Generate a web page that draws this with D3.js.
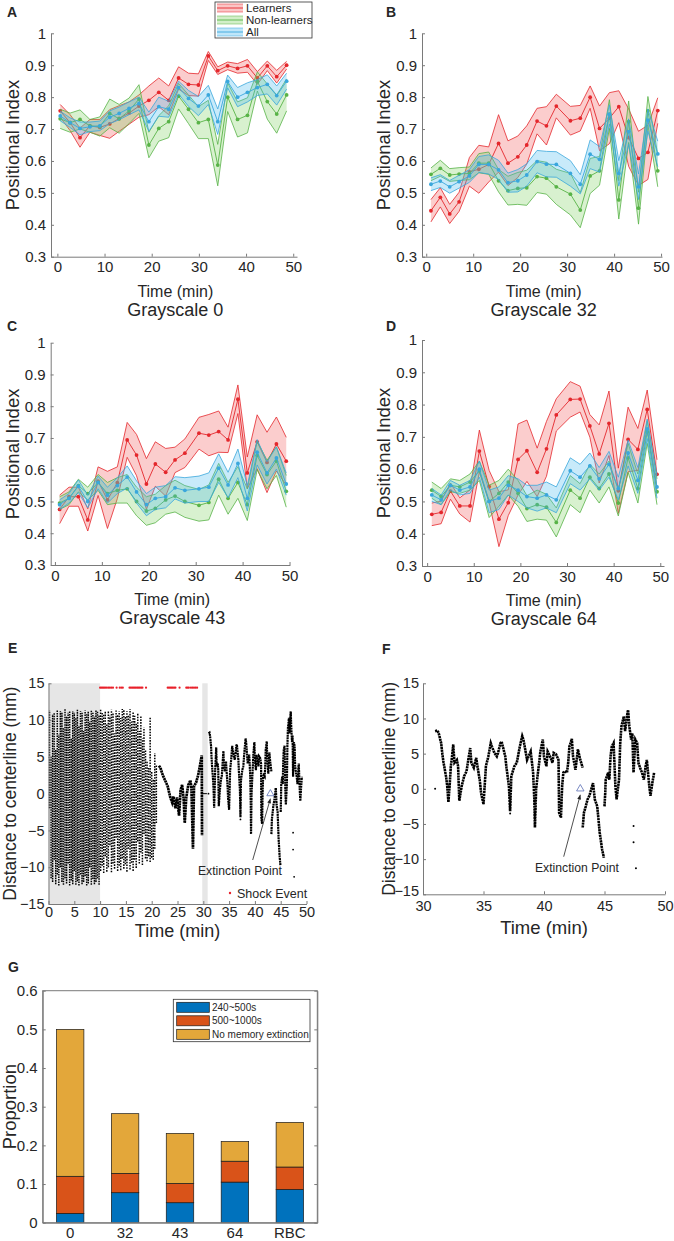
<!DOCTYPE html>
<html><head><meta charset="utf-8">
<script src="https://cdn.jsdelivr.net/npm/d3@7"></script>
<style>
body{margin:0;background:#fff}
svg{display:block}
text{font-family:"Liberation Sans",Arial,Helvetica,sans-serif;fill:#262626}
</style>
</head><body>
<svg id="fig" width="674" height="1241"></svg>
<script>
// ---------------- DATA ----------------
const timesA = [0.6,2.7,4.8,6.9,9.0,11.1,13.1,15.2,17.3,19.4,21.5,23.6,25.7,27.8,29.9,32.0,34.0,36.1,38.2,40.3,42.4,44.5,46.5,48.6];
const timesBCD = [1.0,3.0,5.0,7.0,9.2,11.2,13.3,15.4,17.4,19.5,21.4,23.6,25.6,27.7,30.7,32.8,34.9,36.9,39.0,41.0,43.1,45.2,47.2,49.3];

const seriesNames = ["Learners","Non-learners","All"];
const posTicks = [0.3,0.4,0.5,0.6,0.7,0.8,0.9,1];
const timeTicks = [0,10,20,30,40,50];

// Panel A (Grayscale 0)
const aLearnMean = [0.757,0.72,0.673,0.71,0.705,0.716,0.733,0.75,0.772,0.79,0.815,0.79,0.86,0.84,0.838,0.929,0.883,0.898,0.89,0.898,0.86,0.898,0.864,0.9];
const aLearnSem  = [0.02,0.025,0.03,0.02,0.025,0.045,0.04,0.035,0.035,0.045,0.045,0.045,0.035,0.035,0.035,0.014,0.012,0.012,0.015,0.02,0.02,0.015,0.02,0.012];
const aNonMean   = [0.732,0.72,0.73,0.71,0.708,0.749,0.732,0.757,0.794,0.65,0.702,0.723,0.803,0.762,0.72,0.73,0.587,0.80,0.73,0.743,0.849,0.786,0.747,0.807];
const aNonSem    = [0.03,0.03,0.03,0.02,0.03,0.045,0.045,0.04,0.045,0.04,0.04,0.05,0.04,0.045,0.05,0.06,0.065,0.045,0.055,0.055,0.03,0.055,0.06,0.05];
const aAllMean   = [0.741,0.72,0.702,0.707,0.71,0.737,0.749,0.765,0.78,0.723,0.77,0.762,0.83,0.796,0.772,0.807,0.723,0.849,0.80,0.815,0.83,0.84,0.805,0.85];
const aAllSem    = [0.015,0.015,0.02,0.015,0.015,0.02,0.02,0.02,0.02,0.03,0.03,0.025,0.02,0.025,0.03,0.03,0.04,0.02,0.03,0.03,0.025,0.03,0.03,0.025];

// Panel B (Grayscale 32)
const bLearnMean = [0.444,0.486,0.434,0.472,0.566,0.574,0.589,0.655,0.593,0.613,0.65,0.725,0.71,0.772,0.726,0.734,0.80,0.702,0.734,0.77,0.673,0.608,0.627,0.758];
const bLearnSem  = [0.035,0.03,0.03,0.03,0.045,0.075,0.055,0.09,0.07,0.065,0.06,0.04,0.06,0.037,0.045,0.04,0.035,0.07,0.08,0.05,0.09,0.085,0.085,0.04];
const bNonMean   = [0.558,0.577,0.556,0.559,0.561,0.593,0.593,0.538,0.507,0.514,0.516,0.551,0.546,0.519,0.496,0.446,0.553,0.569,0.747,0.478,0.723,0.452,0.757,0.569];
const bNonSem    = [0.02,0.025,0.02,0.02,0.02,0.03,0.035,0.035,0.045,0.05,0.055,0.05,0.05,0.055,0.065,0.055,0.055,0.045,0.045,0.06,0.065,0.05,0.045,0.05];
const bAllMean   = [0.527,0.537,0.519,0.535,0.553,0.589,0.589,0.572,0.532,0.538,0.556,0.598,0.59,0.589,0.561,0.527,0.621,0.605,0.746,0.561,0.692,0.519,0.728,0.622];
const bAllSem    = [0.02,0.02,0.02,0.02,0.02,0.025,0.03,0.03,0.03,0.035,0.035,0.035,0.04,0.04,0.04,0.03,0.045,0.04,0.03,0.04,0.04,0.04,0.035,0.04];

// Panel C (Grayscale 43)
const cLearnMean = [0.475,0.515,0.515,0.442,0.564,0.505,0.559,0.694,0.646,0.555,0.618,0.592,0.631,0.652,0.715,0.709,0.72,0.694,0.822,0.59,0.688,0.623,0.681,0.627];
const cLearnSem  = [0.045,0.03,0.03,0.035,0.045,0.09,0.05,0.055,0.065,0.08,0.07,0.075,0.04,0.045,0.05,0.065,0.065,0.04,0.045,0.05,0.085,0.095,0.085,0.075];
const cNonMean   = [0.495,0.51,0.55,0.525,0.56,0.525,0.535,0.54,0.50,0.47,0.478,0.505,0.517,0.50,0.488,0.497,0.57,0.51,0.56,0.49,0.645,0.585,0.627,0.532];
const cNonSem    = [0.02,0.02,0.02,0.02,0.025,0.035,0.04,0.045,0.045,0.045,0.045,0.045,0.05,0.05,0.05,0.055,0.05,0.05,0.05,0.05,0.045,0.045,0.045,0.05];
const cAllMean   = [0.49,0.51,0.548,0.50,0.56,0.52,0.55,0.577,0.53,0.49,0.51,0.515,0.543,0.535,0.54,0.545,0.605,0.552,0.62,0.51,0.655,0.59,0.637,0.555];
const cAllSem    = [0.015,0.015,0.02,0.02,0.02,0.025,0.025,0.035,0.035,0.035,0.035,0.035,0.035,0.04,0.04,0.045,0.045,0.04,0.045,0.04,0.04,0.035,0.035,0.035];

// Panel D (Grayscale 64)
const dLearnMean = [0.46,0.466,0.532,0.486,0.486,0.656,0.546,0.445,0.496,0.63,0.657,0.59,0.663,0.768,0.816,0.817,0.734,0.647,0.742,0.533,0.692,0.661,0.785,0.584];
const dLearnSem  = [0.035,0.035,0.025,0.025,0.05,0.065,0.05,0.085,0.04,0.11,0.095,0.075,0.085,0.05,0.055,0.04,0.035,0.09,0.1,0.07,0.1,0.065,0.06,0.045];
const dNonMean   = [0.535,0.515,0.55,0.545,0.56,0.595,0.50,0.525,0.56,0.525,0.478,0.49,0.482,0.435,0.535,0.51,0.575,0.54,0.585,0.495,0.635,0.54,0.715,0.53];
const dNonSem    = [0.025,0.025,0.02,0.02,0.025,0.03,0.05,0.04,0.04,0.04,0.04,0.045,0.04,0.045,0.045,0.045,0.04,0.045,0.04,0.04,0.045,0.045,0.035,0.04];
const dAllMean   = [0.52,0.505,0.55,0.535,0.545,0.60,0.50,0.51,0.55,0.535,0.515,0.51,0.52,0.505,0.595,0.575,0.61,0.57,0.615,0.54,0.65,0.565,0.725,0.545];
const dAllSem    = [0.02,0.015,0.015,0.015,0.02,0.025,0.035,0.035,0.03,0.035,0.035,0.04,0.04,0.04,0.04,0.04,0.04,0.035,0.04,0.035,0.04,0.04,0.03,0.035];

// Panel E: dense early tracking, drawn as vertical [time, low, high] excursions
const eStrokes = [
 [0.2,-2,11.3],[0.5,-11.5,5],[0.8,-12,10.8],[1.1,-9,11],[1.4,-12.3,6],[1.7,-11,11.4],[2.0,-12.5,8],[2.3,-10,11.2],
 [2.6,-12,11],[2.9,-12.4,9],[3.2,-11.5,11.5],[3.5,-12.2,10.5],[3.8,-9.5,11],[4.1,-12.5,11.3],[4.4,-11.8,7.5],[4.7,-12.3,11.2],
 [5.0,-10.5,11],[5.3,-12.4,10.4],[5.6,-11.9,11.4],[5.9,-12.5,9.2],[6.2,-11,11.2],[6.5,-12.3,11],[6.8,-12,8.5],[7.1,-11.2,11.3],
 [7.4,-12.5,10.8],[7.7,-12.2,11.2],[8.0,-10,9.8],[8.3,-12.4,11.4],[8.6,-11.6,11],[8.9,-12.3,10.5],[9.2,-12,11.3],[9.5,-11.5,11.2],[9.8,-12.4,10.7],
 [10.1,-10.5,11.4],[10.4,-9.8,11],[10.7,-10.8,10.8],[11.0,-8.5,11.3],[11.3,-10.6,9.5],[11.6,-10,11.2],[11.9,-7,10.6],[12.2,-10.7,11.4],
 [12.5,-9.5,11],[12.8,-10.2,8.2],[13.1,-6,11.3],[13.4,-10.5,10.8],[13.7,-9.8,11.2],[14.0,-10.4,10.3],[14.3,-8.8,11.5],[14.6,-10.2,11.4],
 [14.9,-9.6,10.5],[15.2,-10.6,11.2],[15.5,-7.5,10.7],[15.8,-10.3,11.5],[16.1,-9.4,9.8],[16.4,-10.5,11.1],[16.7,-9.0,10.6],[17.0,-10.1,9.5],
 [17.3,-6.5,11],[17.6,-9.5,8.5],[17.9,-8.0,10.5],[18.2,-9.7,7.5],[18.5,-5.5,9.0],[18.8,-8.8,6.0],[19.1,-9.2,4.5],[19.4,-8.5,3.5],
 [19.7,-9.3,10.5],[20.0,-8.7,3.0],[20.3,-9.0,2.0],[20.6,-7.5,5.5],[20.9,-4.0,4.0]
];
const eMidTrace = [
 [21.4,3.8],[21.7,3.5],[22.15,2.5],[22.6,1.8],[23.1,1.0],[23.6,-0.5],[23.96,-1.2],[24.2,-0.4],[24.6,-2.0],[24.9,-0.5],
 [25.3,-3.0],[25.6,0.5],[25.9,1.2],[26.2,-0.8],[26.4,-4.0],[26.7,-0.5],[27.1,1.2],[27.5,1.8],[27.7,0.8],[28.0,-7.5],
 [28.2,1.0],[28.6,1.5],[29.0,2.5],[29.4,4.0],[29.7,5.2],[29.75,-5.7]
];
const eNoTrack = [[29.6,0],[30.7,0]];
const shockTimes = [10.0,10.25,10.5,10.75,11.0,11.3,11.6,11.9,12.2,12.5,13.2,13.8,14.1,14.4,15.7,15.95,16.2,16.45,16.7,16.95,17.2,17.45,17.7,17.95,18.2,18.9,23.1,23.35,23.6,23.85,24.1,24.35,24.6,25.4,26.7,26.95,27.2,27.6,27.9,28.2,28.5,28.8];
const trainWindows = [[0,10],[29.8,30.85]];

// 30-50 min tracking (panel F, also end of panel E), as continuous segments
const lateSegments = [
 [[31.0,8.2],[31.2,8.3],[31.3,7.9],[31.5,6.5],[31.6,4.9],[31.7,3.7],[31.9,1.8],[32.0,0.4],[32.1,-1.9],[32.2,0.4],[32.3,3.2],[32.4,4.6],
  [32.5,6.3],[32.6,3.7],[32.8,4.1],[32.9,3.2],[33.0,-1.7],[33.2,0.4],[33.4,1.8],[33.6,2.5],[33.75,4.2],[33.9,5.8],[34.0,3.7],[34.2,3.0],
  [34.4,4.4],[34.5,3.2],[34.7,1.1],[34.8,-0.6],[35.0,-2.2],[35.2,3.2],[35.4,4.6],[35.6,6.5],[35.7,6.0],[35.9,5.1],[36.1,4.6],[36.2,5.1],
  [36.4,6.5],[36.5,6.7],[36.6,6.0],[36.8,4.6],[36.9,3.0],[37.1,0.4],[37.2,-3.2],[37.3,1.8],[37.55,3.2],[37.75,3.7],[38.0,6.0],[38.2,7.5],
  [38.3,7.0],[38.5,5.1],[38.6,4.1],[38.8,4.9],[38.9,5.3],[39.1,2.3],[39.2,-1.5],[39.25,-5.5],[39.35,0],[39.5,2.3],[39.6,3.7],[39.7,5.3],
  [39.9,7.0],[40.0,4.6],[40.2,3.2],[40.3,5.3],[40.5,4.6],[40.7,3.7],[40.8,5.1],[41.0,4.9],[41.2,4.1],[41.25,-3.4],[41.4,-4.1],[41.5,0.4],
  [41.6,2.3],[41.7,2.5],[41.9,2.3],[42.0,3.7],[42.1,6.0],[42.3,7.1],[42.4,4.6],[42.6,2.7],[42.7,4.1],[42.8,5.6],[43.0,4.1],[43.2,3.0]],
 [[43.2,-5.5],[43.3,-3.4],[43.45,-2.5],[43.6,-1.5],[43.75,-1.0],[43.9,-0.1],[44.05,0.8],[44.2,-1.5],[44.4,-2.5],[44.5,-4.3],[44.6,-6.2],
  [44.8,-8.6],[44.95,-9.8]],
 [[45.0,-2.5],[45.06,-0.6],[45.1,1.3],[45.3,2.3],[45.4,1.3],[45.5,4.6],[45.6,6.0],[45.75,6.5],[45.9,0.4],[46.0,-1.5],[46.2,1.3],[46.3,6.5],
  [46.4,8.9],[46.6,10.3],[46.7,8.2],[46.9,10.8],[46.95,11.2],[47.05,8.9],[47.2,7.0],[47.3,7.9],[47.4,2.3],[47.55,7.0],[47.7,6.5],[47.8,3.7],
  [48.0,2.7],[48.1,2.3],[48.25,1.3],[48.4,3.2],[48.5,4.1],[48.7,0.4],[48.8,-1.0],[48.95,0.8],[49.1,2.3]]
];
const lateDots = [[31.0,0],[37.2,-3.5],[47.4,-5.3],[47.4,-7.6],[47.6,-11.3]];
const extinctionPoint = [43.0,0];
const distTicks = [-15,-10,-5,0,5,10,15];
const eTimeTicks = [0,5,10,15,20,25,30,35,40,45,50];
const fTimeTicks = [30,35,40,45,50];

// Panel G
const gCategories = ["0","32","43","64","RBC"];
const gShort = [0.024,0.0776,0.0517,0.105,0.086];     // 240~500s
const gMid = [0.096,0.05,0.05,0.054,0.058];           // 500~1000s
const gNone = [0.38,0.1544,0.1293,0.051,0.1155];      // No memory extinction
const gKeys = ["240~500s","500~1000s","No memory extinction"];
const propTicks = [0,0.1,0.2,0.3,0.4,0.5,0.6];

// ---------------- DRAWING ----------------
const svg = d3.select("#fig");
const AX = "#7a7a7a";
const COLORS = {
  red:{line:"#e4272c", fill:"#f25a5a"},
  green:{line:"#58b347", fill:"#7fd160"},
  blue:{line:"#3aa7dc", fill:"#49b8ee"}
};

function styleAxis(g, fs){
  g.select(".domain").attr("stroke", AX).attr("stroke-width",1);
  g.selectAll(".tick line").attr("stroke", AX).attr("stroke-width",1);
  g.selectAll(".tick text").attr("fill","#262626").attr("font-size",fs)
   .attr("font-family",'"Liberation Sans",Arial,sans-serif');
}

function letter(txt,x,y){
  svg.append("text").attr("x",x).attr("y",y).attr("font-size",14).attr("font-weight","bold").attr("fill","#111").text(txt);
}

function drawArrow(g,x1,y1,x2,y2){
  g.append("line").attr("x1",x1).attr("y1",y1).attr("x2",x2).attr("y2",y2).attr("stroke","#222").attr("stroke-width",0.8);
  const a = Math.atan2(y2-y1,x2-x1), L=5, w=0.4;
  const p = [[x2,y2],[x2-L*Math.cos(a-w),y2-L*Math.sin(a-w)],[x2-L*Math.cos(a+w),y2-L*Math.sin(a+w)]];
  g.append("path").attr("d","M"+p.map(q=>q.join(",")).join("L")+"Z").attr("fill","#222");
}

function linePanel(cfg){
  const g = svg.append("g");
  const x = d3.scaleLinear().domain(cfg.xd).range(cfg.xr);
  const y = d3.scaleLinear().domain([0.3,1]).range(cfg.yr);
  const sets = [
    {m:cfg.learn, e:cfg.learnSem, c:COLORS.red},
    {m:cfg.non, e:cfg.nonSem, c:COLORS.green},
    {m:cfg.all, e:cfg.allSem, c:COLORS.blue}
  ];
  sets.forEach(s=>{
    const pts = cfg.t.map((t,i)=>({t, m:s.m[i], e:s.e[i]}));
    g.append("path").datum(pts)
      .attr("d", d3.area().x(d=>x(d.t)).y0(d=>y(d.m-d.e)).y1(d=>y(d.m+d.e)))
      .attr("fill", s.c.fill).attr("fill-opacity",0.3).attr("stroke","none");
    [-1,1].forEach(k=>{
      g.append("path").datum(pts)
        .attr("d", d3.line().x(d=>x(d.t)).y(d=>y(d.m+k*d.e)))
        .attr("fill","none").attr("stroke", s.c.line).attr("stroke-width",0.8);
    });
    g.append("path").datum(pts)
      .attr("d", d3.line().x(d=>x(d.t)).y(d=>y(d.m)))
      .attr("fill","none").attr("stroke", s.c.line).attr("stroke-width",0.9);
    g.selectAll(null).data(pts).enter().append("circle")
      .attr("cx",d=>x(d.t)).attr("cy",d=>y(d.m)).attr("r",1.9).attr("fill",s.c.line);
  });
  const ya = g.append("g").attr("transform",`translate(${cfg.xr[0]},0)`)
    .call(d3.axisLeft(y).tickValues(posTicks).tickFormat(d3.format("~g")).tickSizeInner(-3).tickSizeOuter(0).tickPadding(5));
  styleAxis(ya,15);
  const xa = g.append("g").attr("transform",`translate(0,${cfg.yr[0]})`)
    .call(d3.axisBottom(x).tickValues(timeTicks).tickSizeInner(-3).tickSizeOuter(0).tickPadding(5));
  styleAxis(xa,15);
  g.append("text").attr("transform",`translate(${cfg.xr[0]-32},${(cfg.yr[0]+cfg.yr[1])/2}) rotate(-90)`)
    .attr("text-anchor","middle").attr("font-size",18.5).text("Positional Index");
  g.append("text").attr("x",(x(0)+x(50))/2).attr("y",cfg.yr[0]+40)
    .attr("text-anchor","middle").attr("font-size",16).text("Time (min)");
  g.append("text").attr("x",(x(0)+x(50))/2).attr("y",cfg.yr[0]+59)
    .attr("text-anchor","middle").attr("font-size",18).text(cfg.title);
  return {g,x,y};
}

linePanel({xd:[-1.35,50.8], xr:[51,297], yr:[256.7,33.3], t:timesA,
  learn:aLearnMean, learnSem:aLearnSem, non:aNonMean, nonSem:aNonSem, all:aAllMean, allSem:aAllSem, title:"Grayscale 0"});
linePanel({xd:[-0.9,50.2], xr:[422,662], yr:[256.7,33.3], t:timesBCD,
  learn:bLearnMean, learnSem:bLearnSem, non:bNonMean, nonSem:bNonSem, all:bAllMean, allSem:bAllSem, title:"Grayscale 32"});
linePanel({xd:[-0.9,50.1], xr:[50.7,290], yr:[565,342.7], t:timesBCD,
  learn:cLearnMean, learnSem:cLearnSem, non:cNonMean, nonSem:cNonSem, all:cAllMean, allSem:cAllSem, title:"Grayscale 43"});
linePanel({xd:[-1.1,50.8], xr:[422,664], yr:[566,340], t:timesBCD,
  learn:dLearnMean, learnSem:dLearnSem, non:dNonMean, nonSem:dNonSem, all:dAllMean, allSem:dAllSem, title:"Grayscale 64"});

letter("A",7,17); letter("B",386,17); letter("C",7,331); letter("D",386,331);

// Legend for A
(function(){
  const lg = svg.append("g");
  lg.append("rect").attr("x",215).attr("y",2).attr("width",97).attr("height",36).attr("fill","#fff").attr("stroke","#333").attr("stroke-width",0.8);
  const cols=[COLORS.red,COLORS.green,COLORS.blue];
  seriesNames.forEach((n,i)=>{
    const cy = 8+i*12;
    lg.append("rect").attr("x",217).attr("y",cy-4).attr("width",26).attr("height",8).attr("fill",cols[i].fill).attr("fill-opacity",0.35);
    lg.append("line").attr("x1",217).attr("x2",243).attr("y1",cy).attr("y2",cy).attr("stroke",cols[i].line).attr("stroke-width",0.9);
    lg.append("line").attr("x1",217).attr("x2",243).attr("y1",cy-4).attr("y2",cy-4).attr("stroke",cols[i].line).attr("stroke-width",0.5);
    lg.append("line").attr("x1",217).attr("x2",243).attr("y1",cy+4).attr("y2",cy+4).attr("stroke",cols[i].line).attr("stroke-width",0.5);
    lg.append("text").attr("x",246).attr("y",cy+4).attr("font-size",11.5).text(n);
  });
})();

// ---------------- Panel E ----------------
(function(){
  const g = svg.append("g");
  const x = d3.scaleLinear().domain([0,50]).range([48.5,306.5]);
  const y = d3.scaleLinear().domain([-15,15]).range([904,683.3]);
  trainWindows.forEach(w=>{
    g.append("rect").attr("x",x(w[0])).attr("y",y(15)).attr("width",x(w[1])-x(w[0])).attr("height",y(-15)-y(15)).attr("fill","#e6e6e6");
  });
  g.selectAll(null).data(eStrokes).enter().append("line")
    .attr("x1",d=>x(d[0])).attr("x2",d=>x(d[0])).attr("y1",d=>y(d[1])).attr("y2",d=>y(d[2]))
    .attr("stroke","#000").attr("stroke-width",1.5).attr("stroke-dasharray",d=>d[0]<10?"1.6,0.9":"1.6,1.2");
  const ln = d3.line().x(d=>x(d[0])).y(d=>y(d[1]));
  g.append("path").datum(eMidTrace).attr("d",ln).attr("fill","none").attr("stroke","#000").attr("stroke-width",2.7).attr("stroke-dasharray","2.2,0.5");
  g.append("path").datum(eNoTrack).attr("d",ln).attr("fill","none").attr("stroke","#000").attr("stroke-width",1);
  lateSegments.forEach(s=>{
    g.append("path").datum(s).attr("d",ln).attr("fill","none").attr("stroke","#000").attr("stroke-width",2.2).attr("stroke-dasharray","2,0.6");
  });
  g.selectAll(null).data(lateDots).enter().append("circle").attr("cx",d=>x(d[0])).attr("cy",d=>y(d[1])).attr("r",0.9).attr("fill","#000");
  g.selectAll(null).data(shockTimes).enter().append("circle").attr("cx",d=>x(d)).attr("cy",y(14.4)).attr("r",1.1).attr("fill","#e8202a");
  const ex = x(extinctionPoint[0]), ey = y(extinctionPoint[1]);
  g.append("path").attr("d",d3.symbol(d3.symbolTriangle,22)()).attr("transform",`translate(${ex},${ey})`).attr("fill","none").attr("stroke","#5a6fb5").attr("stroke-width",0.8);
  drawArrow(g, 252.7, 860, ex, ey+5);
  g.append("text").attr("x",240).attr("y",875).attr("text-anchor","middle").attr("font-size",12.2).text("Extinction Point");
  g.append("circle").attr("cx",230).attr("cy",893).attr("r",1.2).attr("fill","#e8202a");
  g.append("text").attr("x",237).attr("y",897.5).attr("font-size",12.5).text("Shock Event");
  const ya = g.append("g").attr("transform",`translate(${x(0)},0)`)
    .call(d3.axisLeft(y).tickValues(distTicks).tickSizeInner(-3).tickSizeOuter(0).tickPadding(4));
  styleAxis(ya,14.5);
  const xa = g.append("g").attr("transform",`translate(0,${y(-15)})`)
    .call(d3.axisBottom(x).tickValues(eTimeTicks).tickSizeInner(-3).tickSizeOuter(0).tickPadding(3));
  styleAxis(xa,14.5);
  g.append("text").attr("transform",`translate(16,${(y(-15)+y(15))/2}) rotate(-90)`).attr("text-anchor","middle").attr("font-size",17.5).text("Distance to centerline (mm)");
  g.append("text").attr("x",(x(0)+x(50))/2).attr("y",937).attr("text-anchor","middle").attr("font-size",18).text("Time (min)");
})();
letter("E",8,653);

// ---------------- Panel F ----------------
(function(){
  const g = svg.append("g");
  const x = d3.scaleLinear().domain([30,50]).range([423,665]);
  const y = d3.scaleLinear().domain([-15,15]).range([894.3,683.3]);
  const ln = d3.line().x(d=>x(d[0])).y(d=>y(d[1]));
  lateSegments.forEach(s=>{
    g.append("path").datum(s).attr("d",ln).attr("fill","none").attr("stroke","#000").attr("stroke-width",2.6).attr("stroke-dasharray","2.2,0.6");
  });
  g.selectAll(null).data(lateDots).enter().append("circle").attr("cx",d=>x(d[0])).attr("cy",d=>y(d[1])).attr("r",1).attr("fill","#000");
  const ex = x(extinctionPoint[0]), ey = y(extinctionPoint[1]);
  g.append("path").attr("d",d3.symbol(d3.symbolTriangle,24)()).attr("transform",`translate(${ex},${ey})`).attr("fill","none").attr("stroke","#5a6fb5").attr("stroke-width",0.8);
  drawArrow(g, 563.7, 856.7, ex, ey+6);
  g.append("text").attr("x",577).attr("y",871.5).attr("text-anchor","middle").attr("font-size",12.2).text("Extinction Point");
  const ya = g.append("g").attr("transform",`translate(${x(30)},0)`)
    .call(d3.axisLeft(y).tickValues(distTicks).tickSizeInner(-3).tickSizeOuter(0).tickPadding(4));
  styleAxis(ya,14.5);
  // lift the bottom "-15" label slightly so it clears the "30" time label
  ya.selectAll(".tick text").filter(d=>d===-15).attr("dy","0.1em");
  const xa = g.append("g").attr("transform",`translate(0,${y(-15)})`)
    .call(d3.axisBottom(x).tickValues(fTimeTicks).tickSizeInner(-3).tickSizeOuter(0).tickPadding(6));
  styleAxis(xa,14.5);
  g.append("text").attr("transform",`translate(395,${(y(-15)+y(15))/2}) rotate(-90)`).attr("text-anchor","middle").attr("font-size",17.5).text("Distance to centerline (mm)");
  g.append("text").attr("x",(x(30)+x(50))/2).attr("y",934).attr("text-anchor","middle").attr("font-size",18.5).text("Time (min)");
})();
letter("F",382,654);

// ---------------- Panel G ----------------
(function(){
  const g = svg.append("g");
  const x = d3.scaleBand().domain(gCategories).range([42.7,317.3]).paddingInner(0.5).paddingOuter(0.25);
  const y = d3.scaleLinear().domain([0,0.6]).range([1222.7,990.7]);
  const table = gCategories.map((c,i)=>({cat:c, [gKeys[0]]:gShort[i], [gKeys[1]]:gMid[i], [gKeys[2]]:gNone[i]}));
  const stack = d3.stack().keys(gKeys)(table);
  const fills = ["#0072bd","#d95319","#e3a73a"];
  stack.forEach((layer,k)=>{
    g.selectAll(null).data(layer).enter().append("rect")
      .attr("x",d=>x(d.data.cat)).attr("width",x.bandwidth())
      .attr("y",d=>y(d[1])).attr("height",d=>y(d[0])-y(d[1]))
      .attr("fill",fills[k]).attr("stroke","#1a1a1a").attr("stroke-width",0.7);
  });
  g.append("rect").attr("x",42.7).attr("y",990.7).attr("width",317.3-42.7).attr("height",1222.7-990.7).attr("fill","none").attr("stroke",AX).attr("stroke-width",1);
  const ya = g.append("g").attr("transform","translate(42.7,0)")
    .call(d3.axisLeft(y).tickValues(propTicks).tickFormat(d3.format("~g")).tickSizeInner(-3).tickSizeOuter(0).tickPadding(5));
  styleAxis(ya,15);
  const yr = g.append("g").attr("transform","translate(317.3,0)")
    .call(d3.axisRight(y).tickValues(propTicks).tickSizeInner(-3).tickSizeOuter(0).tickFormat(""));
  styleAxis(yr,15);
  const xa = g.append("g").attr("transform","translate(0,1222.7)")
    .call(d3.axisBottom(x).tickSizeInner(0).tickSizeOuter(0).tickPadding(5));
  styleAxis(xa,15);
  g.append("text").attr("transform",`translate(16,${(990.7+1222.7)/2}) rotate(-90)`).attr("text-anchor","middle").attr("font-size",18.5).text("Proportion");
  const lg = g.append("g");
  lg.append("rect").attr("x",173.3).attr("y",999.3).attr("width",136.7).attr("height",42.4).attr("fill","#fff").attr("stroke","#333").attr("stroke-width",0.8);
  gKeys.forEach((k,i)=>{
    const cy = 1007.3 + i*13.5;
    lg.append("rect").attr("x",176.7).attr("y",cy-5).attr("width",32.6).attr("height",10).attr("fill",fills[i]).attr("stroke","#1a1a1a").attr("stroke-width",0.7);
    lg.append("text").attr("x",212).attr("y",cy+3.6).attr("font-size",10).text(k);
  });
})();
letter("G",8,972);
</script>
</body></html>
